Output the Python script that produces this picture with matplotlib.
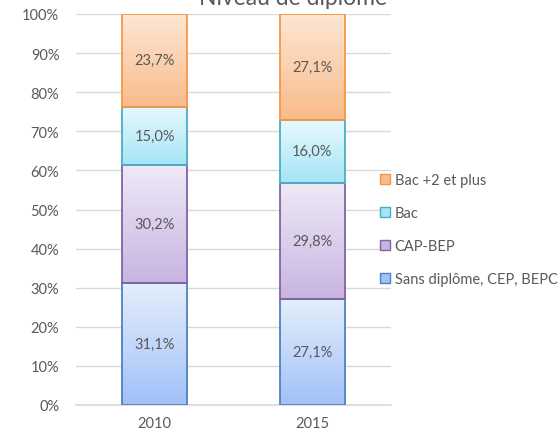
import matplotlib.pyplot as plt
import numpy as np
from matplotlib.colors import to_rgb
from matplotlib.patches import Patch

years = ['2010', '2015']
series = ['Sans diplôme, CEP, BEPC', 'CAP-BEP', 'Bac', 'Bac +2 et plus']
sans_diplome = [31.1, 27.1]
cap_bep = [30.2, 29.8]
bac = [15.0, 16.0]
bac_plus2 = [23.7, 27.1]
values = [sans_diplome, cap_bep, bac, bac_plus2]

# top colour, bottom colour, edge
styles = [
    ('#e4eefc', '#a2c1f9', '#4f81bd'),
    ('#efe9f6', '#c8b5e2', '#8064a2'),
    ('#e6f9fd', '#a5e5f6', '#4bacc6'),
    ('#fde6d3', '#f9bb8b', '#f79646'),
]

plt.rcParams['font.family'] = ['Lato', 'DejaVu Sans']
fig = plt.figure(figsize=(5.6, 4.35), dpi=100)
ax = fig.add_axes([76/560, 29/435, 315/560, 391/435])

x = np.arange(len(years))
width = 0.41
bottom = np.zeros(len(years))
for vals, (top_c, bot_c, edge) in zip(values, styles):
    bars = ax.bar(x, vals, width, bottom=bottom, color='none',
                  edgecolor=edge, linewidth=1.3, zorder=3)
    t = np.linspace(0, 1, 64)[:, None]
    grad = (1 - t) * np.array(to_rgb(top_c)) + t * np.array(to_rgb(bot_c))
    grad = grad[:, None, :]
    for b, v, xi, b0 in zip(bars, vals, x, bottom):
        im = ax.imshow(grad, extent=[xi - width/2, xi + width/2, b0, b0 + v],
                       aspect='auto', zorder=2)
        im.set_clip_path(b)
        ax.text(xi, b0 + v/2, f'{v:.1f}%'.replace('.', ','), ha='center',
                va='center', fontsize=10.5, color='#595959', zorder=4)
    bottom = bottom + np.array(vals)

ax.set_xlim(-0.5, 1.5)
ax.set_ylim(0, 100)
ax.set_yticks(np.arange(0, 101, 10))
ax.set_yticklabels([f'{v}%' for v in range(0, 101, 10)])
ax.set_xticks(x)
ax.set_xticklabels(years)
ax.tick_params(length=0, labelsize=10.5, colors='#595959', pad=8)
ax.tick_params(axis='y', pad=12)
ax.grid(axis='y', color='#d9d9d9', linewidth=1)
ax.set_axisbelow(True)
for s in ['top', 'right', 'left']:
    ax.spines[s].set_visible(False)
ax.spines['bottom'].set_color('#d9d9d9')
ax.spines['bottom'].set_linewidth(1.2)

handles = [Patch(facecolor=bot_c, edgecolor=edge, label=name)
           for name, (top_c, bot_c, edge) in zip(series, styles)][::-1]
fig.legend(handles=handles, loc='upper left', bbox_to_anchor=(380/560, 1 - 174/435),
           frameon=False, fontsize=10.5, labelcolor='#595959', handlelength=0.7,
           handleheight=0.7, handletextpad=0.3, labelspacing=1.3,
           borderpad=0, borderaxespad=0)

fig.text(293/560, 1 - 5/435, 'Niveau de diplôme', ha='center', va='baseline',
         fontsize=16.5, color='#595959')

fig.savefig('out.png', dpi=100)
